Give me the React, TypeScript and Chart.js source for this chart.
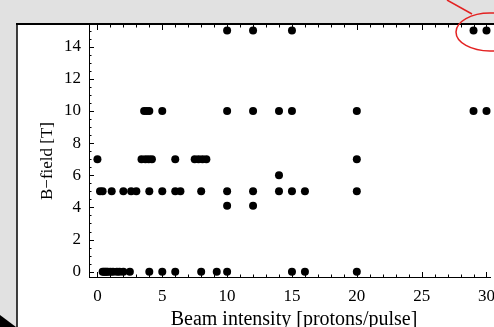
import React, { useEffect, useRef } from "react";
import { Chart, registerables } from "chart.js";

Chart.register(...registerables);

// ---- data ----
const xTickValues = [0, 5, 10, 15, 20, 25, 30];
const yTickValues = [0, 2, 4, 6, 8, 10, 12, 14];
const fieldLevels = [0, 4.1, 5, 6, 7, 10, 15];
const intensitiesAt0 = [0.4, 0.5, 0.6, 0.7, 0.8, 1.0, 1.2, 1.5, 1.7, 2.0, 2.5, 4, 5, 6, 8, 9.2, 10, 15, 16, 20];
const intensitiesAt4 = [10, 12];
const intensitiesAt5 = [0.2, 0.4, 1.1, 2.0, 2.6, 3.0, 4.0, 5.0, 6.0, 6.4, 8.0, 10, 12, 14, 15, 16, 20];
const intensitiesAt6 = [14];
const intensitiesAt7 = [0, 3.4, 3.7, 3.95, 4.2, 6.0, 7.5, 7.8, 8.1, 8.4, 20];
const intensitiesAt10 = [3.6, 3.8, 4.0, 5.0, 10, 12, 14, 15, 20, 29, 30];
const intensitiesAt15 = [10, 12, 15, 29, 30];
const xTitle = "Beam intensity [protons/pulse]";
const yTitle = "B\u2212field [T]";

const rows = [intensitiesAt0, intensitiesAt4, intensitiesAt5, intensitiesAt6, intensitiesAt7, intensitiesAt10, intensitiesAt15];
const points = rows.flatMap((xs, i) => xs.map((x) => ({ x, y: fieldLevels[i] })));

const SERIF = "'Liberation Serif', 'Times New Roman', serif";

const decor = {
  id: "decor",
  beforeDraw(chart: any) {
    const { ctx, width, height } = chart;
    ctx.save();
    ctx.fillStyle = "#e1e1e1";
    ctx.fillRect(0, 0, width, height);
    ctx.fillStyle = "#ffffff";
    ctx.fillRect(17, 24, width - 17, height - 24);
    ctx.strokeStyle = "#000";
    ctx.lineWidth = 1.5;
    ctx.beginPath();
    ctx.moveTo(17, 24);
    ctx.lineTo(17, height);
    ctx.stroke();
    // bottom-left triangle
    ctx.fillStyle = "#000";
    ctx.beginPath();
    ctx.moveTo(0, 315);
    ctx.lineTo(16, height);
    ctx.lineTo(0, height);
    ctx.closePath();
    ctx.fill();
    ctx.restore();
  },
  afterDraw(chart: any) {
    const { ctx, chartArea, width } = chart;
    const xs = chart.scales.x;
    const ys = chart.scales.y;
    ctx.save();
    ctx.strokeStyle = "#000";
    // top frame line
    ctx.lineWidth = 2;
    ctx.beginPath();
    ctx.moveTo(16, 24);
    ctx.lineTo(width, 24);
    ctx.stroke();
    ctx.lineWidth = 1;
    // x ticks (bottom and top), inward
    for (let v = 0; v <= 30; v += 1) {
      const px = Math.round(xs.getPixelForValue(v)) + 0.5;
      const len = v % 5 === 0 ? 5 : 2.5;
      ctx.beginPath();
      ctx.moveTo(px, chartArea.bottom);
      ctx.lineTo(px, chartArea.bottom - len);
      ctx.moveTo(px, 25);
      ctx.lineTo(px, 25 + len);
      ctx.stroke();
    }
    // y ticks, inward
    for (let v = 0; v <= 15; v += 0.5) {
      const py = Math.round(ys.getPixelForValue(v)) + 0.5;
      const len = v % 2 === 0 ? 5 : 2.5;
      ctx.beginPath();
      ctx.moveTo(chartArea.left, py);
      ctx.lineTo(chartArea.left + len, py);
      ctx.stroke();
    }
    // titles
    ctx.fillStyle = "#000";
    ctx.font = "20px " + SERIF;
    ctx.textAlign = "center";
    ctx.textBaseline = "alphabetic";
    ctx.fillText(xTitle, 294, 325);
    ctx.save();
    ctx.translate(52, 161);
    ctx.rotate(-Math.PI / 2);
    ctx.font = "17px " + SERIF;
    ctx.fillText(yTitle, 0, 0);
    ctx.restore();
    // red annotation
    ctx.strokeStyle = "#e32222";
    ctx.lineWidth = 1.5;
    ctx.beginPath();
    ctx.ellipse(490, 32, 34, 19, 0, 0, Math.PI * 2);
    ctx.stroke();
    ctx.beginPath();
    ctx.moveTo(447, 0);
    ctx.lineTo(472, 14);
    ctx.stroke();
    ctx.restore();
  },
};

export default function App() {
  const ref = useRef<HTMLCanvasElement>(null);
  useEffect(() => {
    const chart = new Chart(ref.current!, {
      type: "scatter",
      data: {
        datasets: [
          {
            data: points,
            backgroundColor: "#000",
            borderColor: "#000",
            borderWidth: 0,
            pointRadius: 4,
            pointHoverRadius: 4,
            clip: false as any,
          },
        ],
      },
      options: {
        responsive: false,
        devicePixelRatio: 1,
        animation: false,
        layout: { padding: { top: 24, left: 0, right: 0, bottom: 0 } },
        plugins: { legend: { display: false }, tooltip: { enabled: false } },
        scales: {
          x: {
            type: "linear",
            min: -0.65,
            max: 30.27,
            bounds: "data",
            afterBuildTicks: (s: any) => {
              s.ticks = xTickValues.map((v) => ({ value: v }));
            },
            afterFit: (s: any) => {
              s.height = 50;
              s.paddingLeft = 0;
              s.paddingRight = 0;
            },
            grid: { display: false, drawTicks: false },
            border: { display: true, color: "#000", width: 1 },
            ticks: {
              color: "#000",
              font: { family: SERIF, size: 17 },
              padding: 9,
              maxRotation: 0,
              autoSkip: false,
              callback: (v: any) => String(v),
            },
          },
          y: {
            type: "linear",
            min: -0.33,
            max: 15.41,
            bounds: "data",
            afterBuildTicks: (s: any) => {
              s.ticks = yTickValues.map((v) => ({ value: v }));
            },
            afterFit: (s: any) => {
              s.width = 89;
              s.paddingTop = 0;
              s.paddingBottom = 0;
            },
            grid: { display: false, drawTicks: false },
            border: { display: true, color: "#000", width: 1 },
            ticks: {
              color: "#000",
              font: { family: SERIF, size: 17 },
              padding: 8,
              autoSkip: false,
              callback: (v: any) => String(v),
            },
          },
        },
      },
      plugins: [decor],
    });
    return () => chart.destroy();
  }, []);
  return (
    <div style={{ position: "absolute", left: 0, top: 0, width: 494, height: 327, overflow: "hidden" }}>
      <canvas ref={ref} width={494} height={327} style={{ display: "block", width: 494, height: 327 }} />
    </div>
  );
}
